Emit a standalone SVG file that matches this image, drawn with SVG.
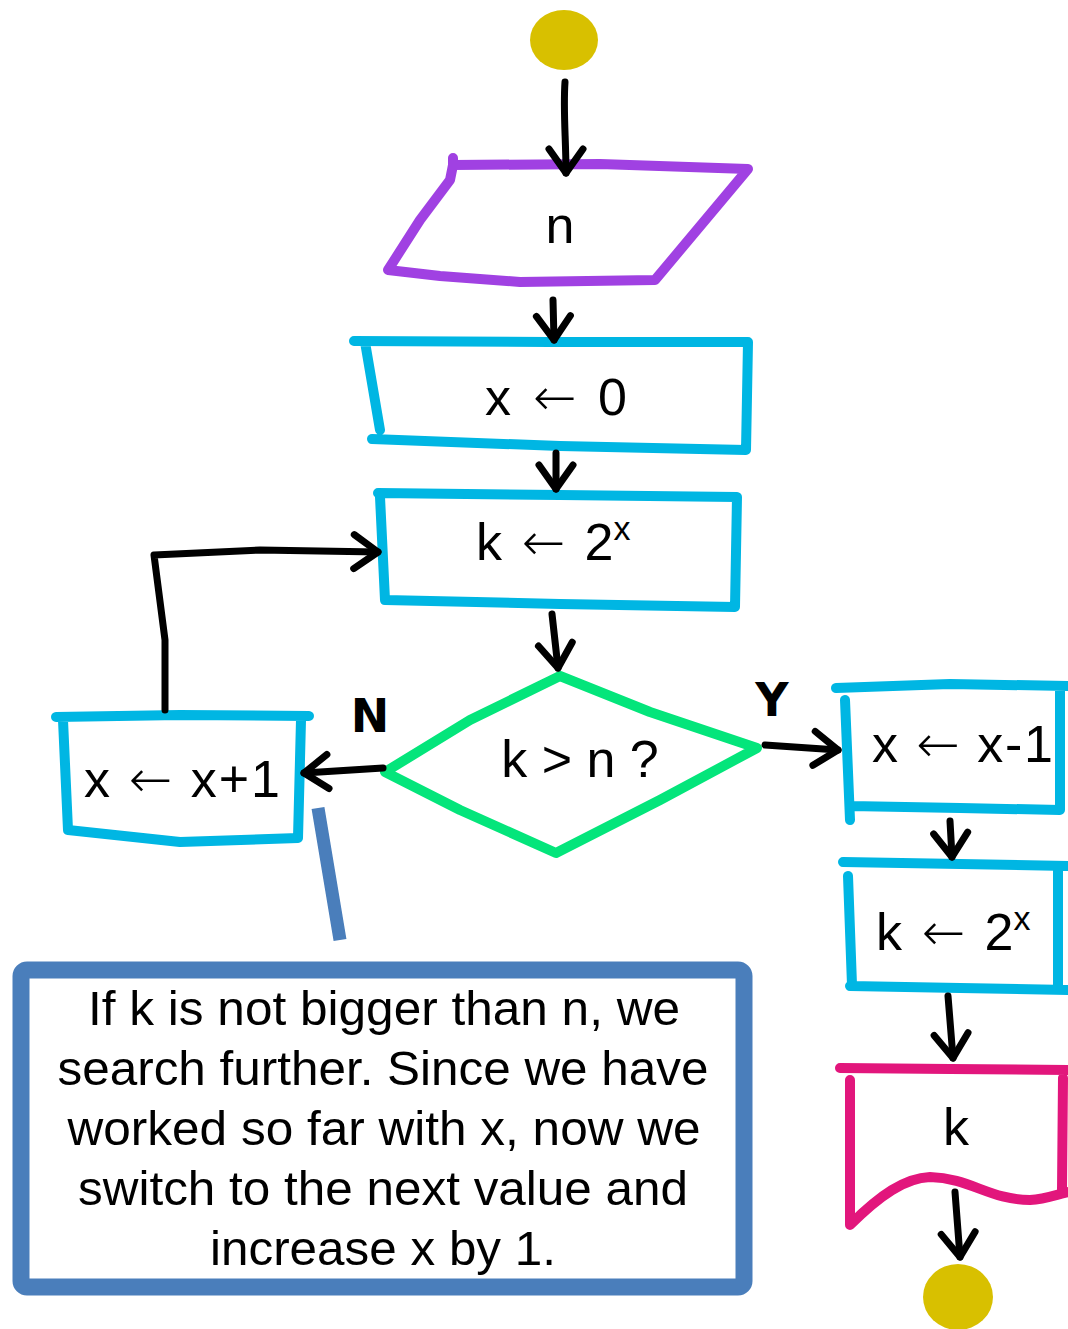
<svg xmlns="http://www.w3.org/2000/svg" width="1068" height="1329" viewBox="0 0 1068 1329">
<defs>
<style>
.bg{fill:#ffffff}
.shape{fill:none;stroke-width:10;stroke-linecap:round;stroke-linejoin:round}
.proc{stroke:#00B6E3}
.io{stroke:#A041E2}
.dec{stroke:#04E57B}
.out{stroke:#E2167C}
.term{fill:#D8C000}
.conn{fill:none;stroke:#000;stroke-width:7;stroke-linecap:round;stroke-linejoin:round}
.lbl{font-family:"Liberation Sans","Noto Sans",Arial,sans-serif;font-size:52px;fill:#000}
.arr{font-family:"DejaVu Sans","Noto Sans",sans-serif;font-weight:200}
.yn{font-family:"DejaVu Sans","Liberation Sans",sans-serif;font-weight:bold;font-size:46px;fill:#000}
.note{font-family:"Liberation Sans","Noto Sans",Arial,sans-serif;font-size:49px;fill:#000;text-anchor:middle}
</style>
<marker id="ah" markerUnits="userSpaceOnUse" viewBox="-32 -24 40 48" refX="0" refY="0" markerWidth="40" markerHeight="48" orient="auto" overflow="visible">
<path d="M-24,-17 L0,0 L-24,17" fill="none" stroke="#000" stroke-width="7" stroke-linecap="round" stroke-linejoin="round"/>
</marker>
</defs>
<rect class="bg" x="0" y="0" width="1068" height="1329"/>

<g id="start"><ellipse class="term" cx="564" cy="40" rx="34" ry="30"/></g>

<g id="input-n">
<path class="shape io" d="M453,158 L453,165 L600,164 L748,169 L655,280 L520,282 L440,276 L388,270 L420,220 L450,180 L453,165"/>
<text class="lbl" x="560" y="243" text-anchor="middle">n</text>
</g>

<g id="init-x">
<path class="shape proc" d="M354,341 L550,342 L748,342 L746,450 L560,446 L372,439 M365,342 L380,430"/>
<text class="lbl" x="485" y="415" textLength="142" lengthAdjust="spacing">x <tspan class="arr">←</tspan> 0</text>
</g>

<g id="compute-k">
<path class="shape proc" d="M378,493 L560,495 L737,497 L735,607 L560,604 L385,600 L380,497"/>
<text class="lbl" x="476" y="560">k <tspan class="arr" dx="5">←</tspan><tspan dx="5"> 2</tspan><tspan font-size="34" dy="-20">x</tspan></text>
</g>

<g id="decision">
<path class="shape dec" d="M560,676 L650,712 L757,748 L660,800 L556,853 L460,810 L385,772 L470,720 L560,676"/>
<text class="lbl" x="580" y="777" text-anchor="middle">k &gt; n ?</text>
</g>

<g id="increment-x">
<path class="shape proc" d="M56,717 L180,715 L309,716 M301,720 L298,838 L180,842 L68,830 L63,720"/>
<text class="lbl" x="84" y="797" textLength="196" lengthAdjust="spacing">x <tspan class="arr">←</tspan> x+1</text>
</g>

<g id="decrement-x">
<path class="shape proc" d="M836,688 L950,684 L1068,686 M845,700 L850,820 M850,806 L960,808 L1060,810 L1060,690"/>
<text class="lbl" x="872" y="762" textLength="181" lengthAdjust="spacing">x <tspan class="arr">←</tspan> x-1</text>
</g>

<g id="recompute-k">
<path class="shape proc" d="M843,862 L960,864 L1068,866 M848,876 L852,985 M850,986 L960,988 L1068,990 M1058,870 L1058,988"/>
<text class="lbl" x="876" y="950">k <tspan class="arr" dx="5">←</tspan><tspan dx="5"> 2</tspan><tspan font-size="34" dy="-20">x</tspan></text>
</g>

<g id="output-k">
<path class="shape out" d="M840,1068 L950,1069 L1068,1070 M850,1080 L850,1225 C880,1195 905,1178 930,1177 C970,1178 990,1200 1030,1200 C1045,1199 1055,1195 1068,1192 M1063,1078 L1062,1190"/>
<text class="lbl" x="956" y="1145" text-anchor="middle">k</text>
</g>

<g id="end"><ellipse class="term" cx="958" cy="1297" rx="35" ry="33"/></g>

<g id="connectors">
<path class="conn" marker-end="url(#ah)" d="M565,82 C563,110 566,140 566,173"/>
<path class="conn" marker-end="url(#ah)" d="M553,300 L554,340"/>
<path class="conn" marker-end="url(#ah)" d="M556,453 L556,489"/>
<path class="conn" marker-end="url(#ah)" d="M552,614 L558,668"/>
<path class="conn" marker-end="url(#ah)" d="M383,768 L304,773"/>
<path class="conn" marker-end="url(#ah)" d="M165,710 L165,640 L154,555 L260,550 L378,552"/>
<path class="conn" marker-end="url(#ah)" d="M765,745 L838,750"/>
<path class="conn" marker-end="url(#ah)" d="M950,821 L952,857"/>
<path class="conn" marker-end="url(#ah)" d="M948,996 L953,1058"/>
<path class="conn" marker-end="url(#ah)" d="M955,1192 L960,1257"/>
<text class="yn" x="370" y="732" text-anchor="middle">N</text>
<text class="yn" x="772" y="716" text-anchor="middle">Y</text>
</g>

<g id="annotation">
<line x1="318" y1="808" x2="340" y2="940" stroke="#4A7EBB" stroke-width="13"/>
<rect x="21" y="970" width="723" height="317" rx="6" fill="#ffffff" stroke="#4A7EBB" stroke-width="17"/>
<text class="note" x="384" y="1025" textLength="592" lengthAdjust="spacingAndGlyphs">If k is not bigger than n, we</text>
<text class="note" x="383" y="1085" textLength="651" lengthAdjust="spacingAndGlyphs">search further. Since we have</text>
<text class="note" x="384" y="1145" textLength="633" lengthAdjust="spacingAndGlyphs">worked so far with x, now we</text>
<text class="note" x="383" y="1205" textLength="610" lengthAdjust="spacingAndGlyphs">switch to the next value and</text>
<text class="note" x="383" y="1265" textLength="346" lengthAdjust="spacingAndGlyphs">increase x by 1.</text>
</g>
</svg>
